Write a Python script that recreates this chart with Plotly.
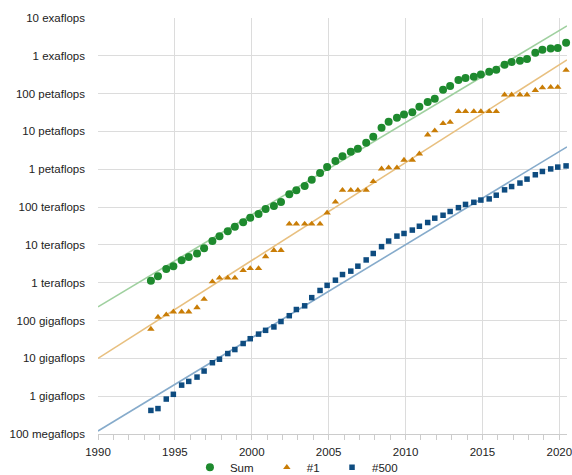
import plotly.graph_objects as go

# TOP500 lists (June ~ year+0.44, November ~ year+0.9)
years = []
for y in range(1993, 2021):
    years.append(y + 0.44)
    if y < 2020:
        years.append(y + 0.9)

# Performance in GFlops
sum_perf = [1128, 1493, 2317, 2732, 3927, 4784, 5900, 8200, 12600, 17000,
            23000, 30000, 40000, 52000, 66000, 89000, 107000, 137000, 220000, 280000,
            360000, 530000, 800000, 1150000, 1660000, 2200000, 2900000, 3500000, 5000000, 7200000,
            12600000, 18000000, 23000000, 28000000, 32000000, 45000000, 60000000, 73000000, 126000000, 160000000,
            230000000, 260000000, 280000000, 320000000, 380000000, 430000000, 580000000, 690000000, 740000000, 830000000,
            1200000000, 1440000000, 1550000000, 1600000000, 2200000000]

first_perf = [59.7, 124, 143.4, 170, 170, 170, 220.4, 368.2, 1068, 1338,
              1338, 1338, 2121, 2379, 2379, 4938, 7226, 7226, 35860, 35860,
              35860, 35860, 35860, 70720, 136800, 280600, 280600, 280600, 280600, 478200,
              1026000, 1105000, 1105000, 1759000, 1759000, 2566000, 8162000, 10510000, 16324750, 17590000,
              33862700, 33862700, 33862700, 33862700, 33862700, 33862700, 93014600, 93014600, 93014600, 93014600,
              122300000, 143500000, 148600000, 148600000, 415530000]

last_perf = [0.42, 0.47, 0.84, 1.12, 1.96, 2.46, 3.2, 4.62, 7.67, 9.5,
             13.4, 17.1, 24.7, 33.1, 43.8, 55.1, 67.8, 94.3, 134.3, 195.8,
             245.1, 403.4, 624, 850.6, 1166, 1646, 2026, 2737, 4005, 5929,
             9000, 12640, 17090, 20050, 24670, 31120, 39100, 50900, 60820, 76500,
             96620, 117800, 133700, 153400, 164700, 206400, 286000, 349300, 432200, 548700,
             715600, 874800, 1022000, 1142000, 1228000]

# Trend lines (endpoints, GFlops)
trend_years = [1990, 2020.5]
trend_sum = [230, 6.2e9]
trend_first = [10, 7.8e8]
trend_last = [0.12, 3.9e6]

tick_vals = [0.1, 1, 10, 100, 1e3, 1e4, 1e5, 1e6, 1e7, 1e8, 1e9, 1e10]
tick_text = ["100 megaflops", "1 gigaflops", "10 gigaflops", "100 gigaflops",
             "1 teraflops", "10 teraflops", "100 teraflops", "1 petaflops",
             "10 petaflops", "100 petaflops", "1 exaflops", "10 exaflops"]

GREEN = "#1e8a2e"
ORANGE = "#c97d06"
BLUE = "#0e4c80"

fig = go.Figure()
fig.add_trace(go.Scatter(x=trend_years, y=trend_sum, mode="lines",
                         line=dict(color="#9fd09f", width=1.6), showlegend=False, hoverinfo="skip"))
fig.add_trace(go.Scatter(x=trend_years, y=trend_first, mode="lines",
                         line=dict(color="#e8c080", width=1.6), showlegend=False, hoverinfo="skip"))
fig.add_trace(go.Scatter(x=trend_years, y=trend_last, mode="lines",
                         line=dict(color="#86abcb", width=1.6), showlegend=False, hoverinfo="skip"))

fig.add_trace(go.Scatter(x=years, y=sum_perf, mode="markers", name="Sum", cliponaxis=False,
                         legend="legend", marker=dict(symbol="circle", size=8, color=GREEN)))
fig.add_trace(go.Scatter(x=years, y=first_perf, mode="markers", name="#1", cliponaxis=False,
                         legend="legend2", marker=dict(symbol="triangle-up", size=6.5, color=ORANGE)))
fig.add_trace(go.Scatter(x=years, y=last_perf, mode="markers", name="#500", cliponaxis=False,
                         legend="legend3", marker=dict(symbol="square", size=5.5, color=BLUE)))

leg_common = dict(orientation="h", xanchor="left", y=-0.08, yanchor="middle",
                  font=dict(size=11.5, color="#222"), bgcolor="rgba(0,0,0,0)")

fig.update_layout(
    width=572, height=475,
    margin=dict(l=98, r=5, t=18, b=41, autoexpand=False),
    paper_bgcolor="white", plot_bgcolor="white",
    font=dict(family="Liberation Sans, Arial, sans-serif", size=11.5, color="#222"),
    showlegend=True,
    legend=dict(x=0.196, **leg_common),
    legend2=dict(x=0.360, **leg_common),
    legend3=dict(x=0.499, **leg_common),
)
fig.update_xaxes(range=[1990, 2020.5], tickvals=[1990, 1995, 2000, 2005, 2010, 2015, 2020],
                 showgrid=True, gridcolor="#dcdcdc", gridwidth=1,
                 showline=True, linecolor="#cccccc", linewidth=1,
                 ticks="outside", ticklen=5, tickcolor="#cccccc",
                 minor=dict(dtick=1, tick0=1990, ticks="outside", ticklen=5, tickcolor="#cccccc", showgrid=False),
                 zeroline=False, ticklabelstandoff=2, ticklabeloverflow="allow")
fig.update_yaxes(type="log", range=[-1, 10], tickvals=tick_vals, ticktext=tick_text,
                 showgrid=True, gridcolor="#dcdcdc", gridwidth=1,
                 showline=False, ticks="", zeroline=False, ticklabelstandoff=12)

fig.write_html("out.html", config={"displayModeBar": False},
               post_script="document.body.style.margin='0';document.body.style.overflow='hidden';")
